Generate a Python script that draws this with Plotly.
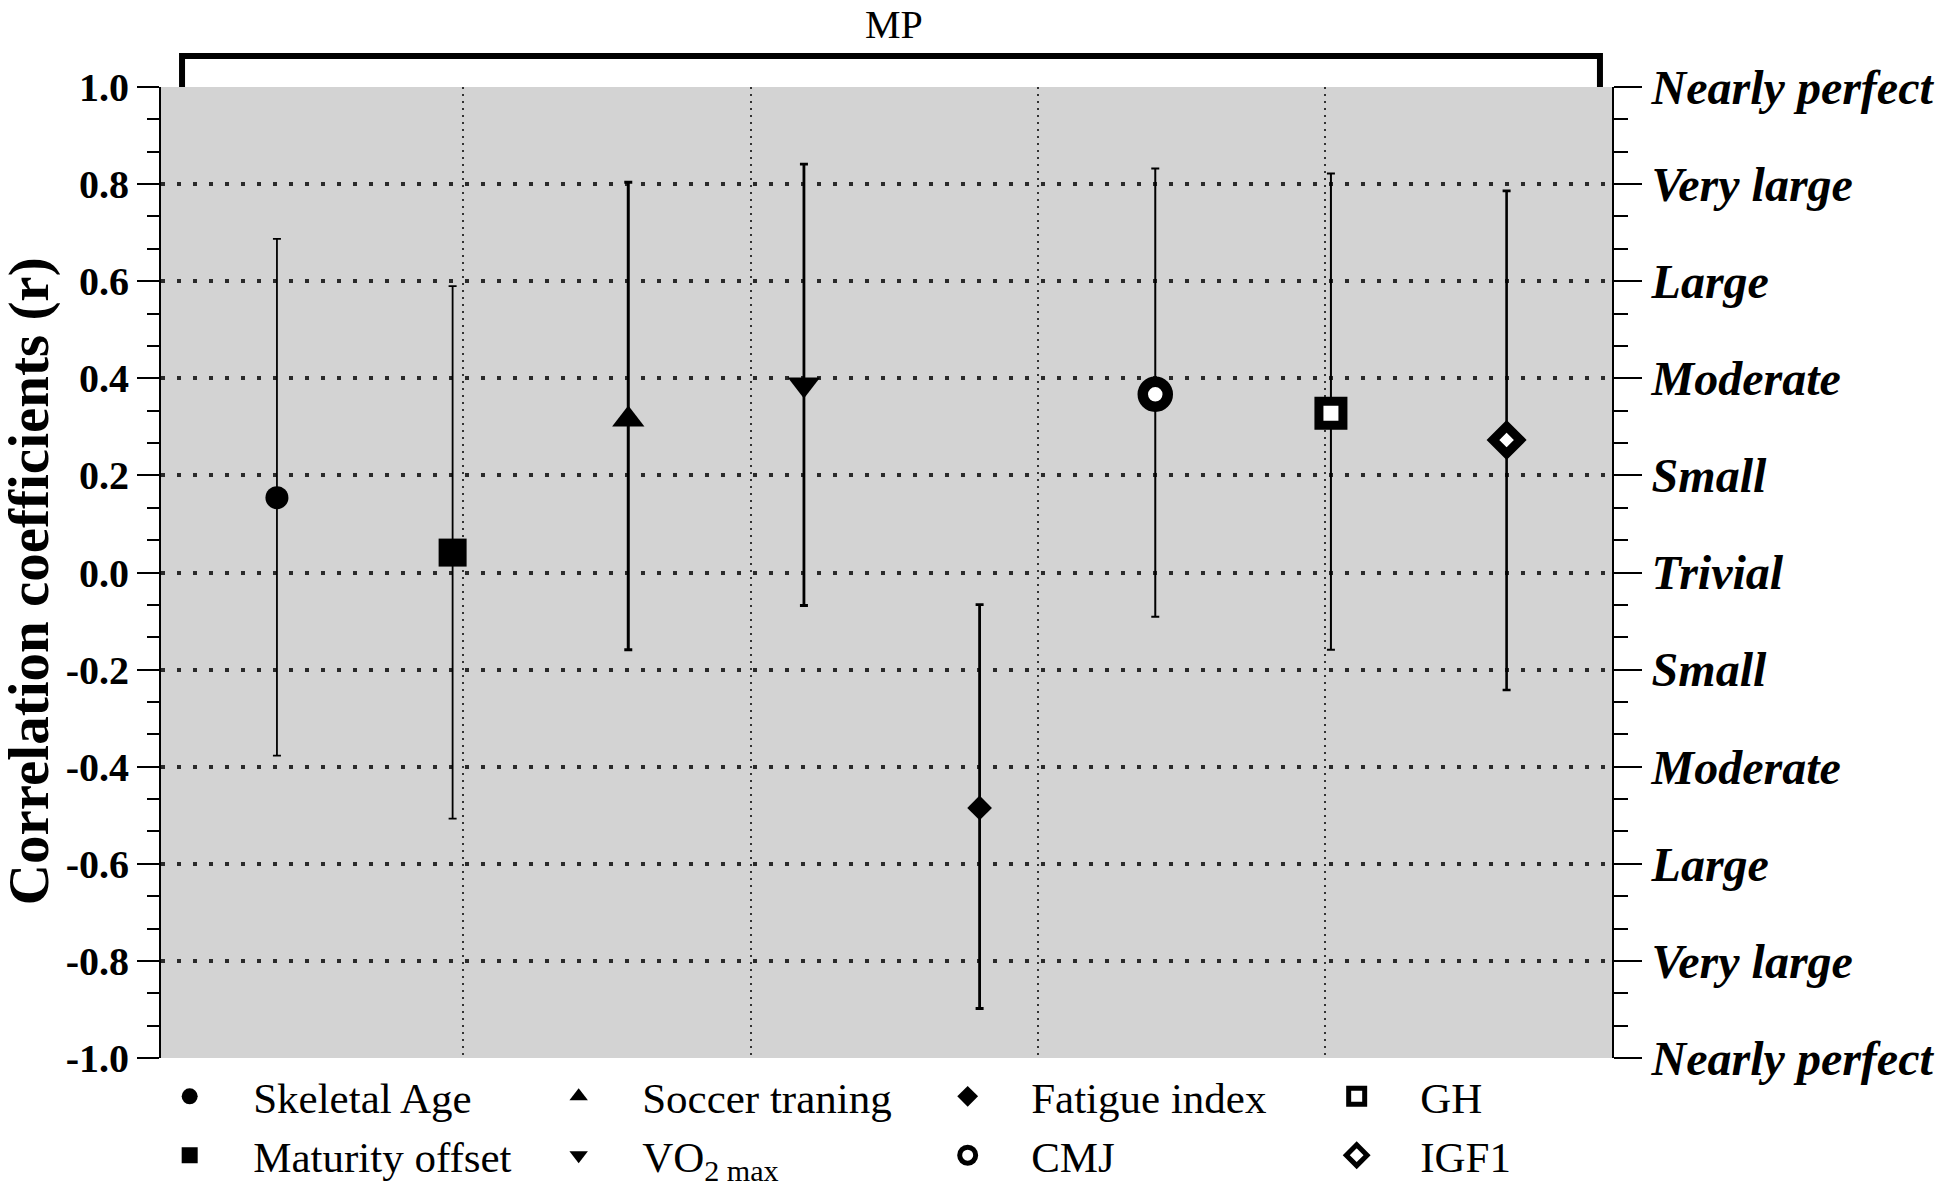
import plotly.graph_objects as go

# ---------------- data ----------------
categories = ["Skeletal Age", "Maturity offset", "Soccer traning", "VO<sub>2 max</sub>",
              "Fatigue index", "CMJ", "GH", "IGF1"]
r_values = [0.154, 0.041, 0.315, 0.387, -0.485, 0.367, 0.328, 0.273]
ci_upper = [0.687, 0.590, 0.804, 0.841, -0.066, 0.832, 0.822, 0.786]
ci_lower = [-0.377, -0.507, -0.159, -0.068, -0.898, -0.091, -0.159, -0.242]

y_ticks = [-1.0, -0.8, -0.6, -0.4, -0.2, 0.0, 0.2, 0.4, 0.6, 0.8, 1.0]
magnitude_labels = ["Nearly perfect", "Very large", "Large", "Moderate", "Small", "Trivial",
                    "Small", "Moderate", "Large", "Very large", "Nearly perfect"]
group_label = "MP"
y_title = "Correlation coefficients (r)"

# ---------------- styles ----------------
SERIF = "Liberation Serif, Times New Roman, serif"
marker_styles = [
    dict(symbol="circle", size=23, color="black", lw=0, ew=1.8),
    dict(symbol="square", size=28, color="black", lw=0, ew=1.8),
    dict(symbol="triangle-up", size=28, color="black", lw=0, ew=3.0),
    dict(symbol="triangle-down", size=28, color="black", lw=0, ew=2.8),
    dict(symbol="diamond", size=19, color="black", lw=0, ew=2.8),
    dict(symbol="circle", size=25, color="white", lw=10.5, ew=2.0),
    dict(symbol="square", size=24, color="white", lw=9, ew=2.0),
    dict(symbol="diamond", size=21, color="white", lw=9, ew=2.6),
]

fig = go.Figure()
for i, (name, r, hi, lo) in enumerate(zip(categories, r_values, ci_upper, ci_lower)):
    st = marker_styles[i]
    row, col = i % 2, i // 2
    fig.add_trace(go.Scatter(
        x=[i], y=[r], mode="markers", name=name,
        legendrank=row * 4 + col + 1,
        marker=dict(symbol=st["symbol"], size=st["size"], color=st["color"],
                    line=dict(color="black", width=st["lw"])),
        error_y=dict(type="data", symmetric=False, array=[hi - r], arrayminus=[r - lo],
                     color="black", thickness=st["ew"], width=4),
    ))

# empty traces so the right-hand magnitude axis and the grid axis get drawn
fig.add_trace(go.Scatter(x=[], y=[], yaxis="y2", showlegend=False, hoverinfo="skip"))
fig.add_trace(go.Scatter(x=[], y=[], yaxis="y3", showlegend=False, hoverinfo="skip"))

separators = [1.06 + k * 1.636 for k in range(4)]
grid_vals = y_ticks[1:-1]

fig.update_layout(
    width=1936, height=1177,
    margin=dict(l=153, r=332, t=79, b=127, autoexpand=False),
    paper_bgcolor="white", plot_bgcolor="#d3d3d3",
    font=dict(family=SERIF, color="black"),
    showlegend=True,
    legend=dict(
        orientation="h", x=-0.024, y=-0.004, xanchor="left", yanchor="top",
        itemwidth=117, entrywidth=257, entrywidthmode="pixels",
        font=dict(family=SERIF, size=43, color="black"),
        bgcolor="rgba(0,0,0,0)", traceorder="normal", valign="middle",
    ),
    xaxis=dict(
        range=[-0.66, 7.6], tickmode="array", tickvals=separators,
        showticklabels=False, ticks="", showgrid=True, griddash="2px,5px",
        gridcolor="#333333", gridwidth=1.5, zeroline=False, showline=False,
    ),
    yaxis=dict(
        range=[-1, 1], tickmode="array", tickvals=y_ticks,
        ticktext=[f"{v:.1f}".replace("-0.0", "0.0") for v in y_ticks],
        ticks="outside", ticklen=22, tickwidth=2, tickcolor="black",
        tickfont=dict(family=SERIF, size=40, color="black", weight="bold"),
        showline=True, linecolor="black", linewidth=2,
        showgrid=False, zeroline=False,
        minor=dict(tick0=-1, dtick=0.2 / 3, ticks="outside", ticklen=12,
                   tickwidth=2, tickcolor="black", showgrid=False),
    ),
    yaxis2=dict(
        overlaying="y", side="right", anchor="x", range=[-1, 1],
        tickmode="array", tickvals=y_ticks, ticktext=magnitude_labels,
        ticks="outside", ticklen=28, tickwidth=2, tickcolor="black",
        tickfont=dict(family=SERIF, size=48, color="black", weight="bold", style="italic"),
        showline=True, linecolor="black", linewidth=2,
        showgrid=False, zeroline=False,
        minor=dict(tick0=-1, dtick=0.2 / 3, ticks="outside", ticklen=14,
                   tickwidth=2, tickcolor="black", showgrid=False),
    ),
    yaxis3=dict(
        overlaying="y", anchor="x", range=[-1, 1], tickmode="array", tickvals=grid_vals,
        showticklabels=False, ticks="", showline=False, zeroline=False,
        showgrid=True, griddash="4px,12px", gridwidth=4, gridcolor="#2a2a2a",
    ),
    shapes=[dict(
        type="path", xref="paper", yref="paper",
        path="M 0.0145,1.0 L 0.0145,1.032 L 0.9917,1.032 L 0.9917,1.0",
        line=dict(color="black", width=6),
    )],
    annotations=[
        dict(text=group_label, xref="paper", yref="paper", x=0.505, y=1.0639,
             xanchor="center", yanchor="middle", showarrow=False,
             font=dict(family=SERIF, size=40, color="black")),
        dict(text=y_title, xref="paper", yref="paper", x=-0.091, y=0.491,
             xanchor="center", yanchor="middle", textangle=-90, showarrow=False,
             font=dict(family=SERIF, size=57, color="black", weight="bold")),
    ],
)

fig.write_html("out.html")
